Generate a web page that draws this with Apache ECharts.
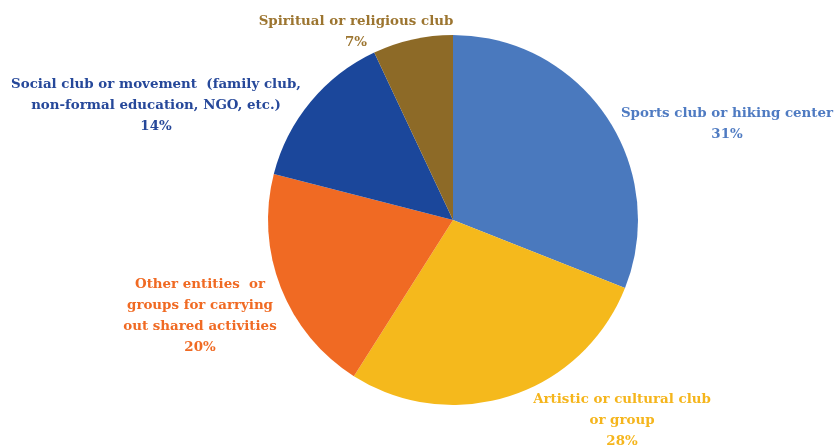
<!DOCTYPE html>
<html><head><meta charset="utf-8">
<script src="https://cdn.jsdelivr.net/npm/echarts@6/dist/echarts.min.js"></script>
<style>html,body{margin:0;padding:0;background:#fff}#c{width:838px;height:446px}</style>
</head><body><div id="c"></div>
<script>
const categories = ['Sports club or hiking center', 'Artistic or cultural club\nor group', 'Other entities  or\ngroups for carrying\nout shared activities', 'Social club or movement  (family club,\nnon-formal education, NGO, etc.)', 'Spiritual or religious club'];
const values = [31, 28, 20, 14, 7];
const colors = ['#4a79be', '#f5b91c', '#f06a23', '#1b479b', '#8d6a27'];
const labelColors = ['#4f7bc2', '#f5b51c', '#f06a23', '#26489a', '#9c7530'];
// label anchor points (px) for each slice
const labelPos = [[727, 124], [622, 421], [200, 316], [156, 106], [356, 32]];

const chart = echarts.init(document.getElementById('c'));
chart.setOption({
  animation: false,
  series: [{
    type: 'pie',
    center: [453, 220],
    radius: 185,
    startAngle: 90,
    clockwise: true,
    data: categories.map((n, i) => ({
      name: n, value: values[i],
      itemStyle: { color: colors[i] },
      label: { color: labelColors[i] }
    })),
    label: {
      show: true,
      position: 'outside',
      formatter: p => p.name + '\n' + p.value + '%',
      fontFamily: 'DejaVu Serif',
      fontWeight: 'bold',
      fontSize: 13.4,
      lineHeight: 21,
      align: 'center',
      overflow: 'none',
      width: 400
    },
    labelLine: { show: false },
    labelLayout: function (p) {
      const pos = labelPos[p.dataIndex];
      return { x: pos[0], y: pos[1], align: 'center', verticalAlign: 'middle' };
    }
  }]
});
</script></body></html>
